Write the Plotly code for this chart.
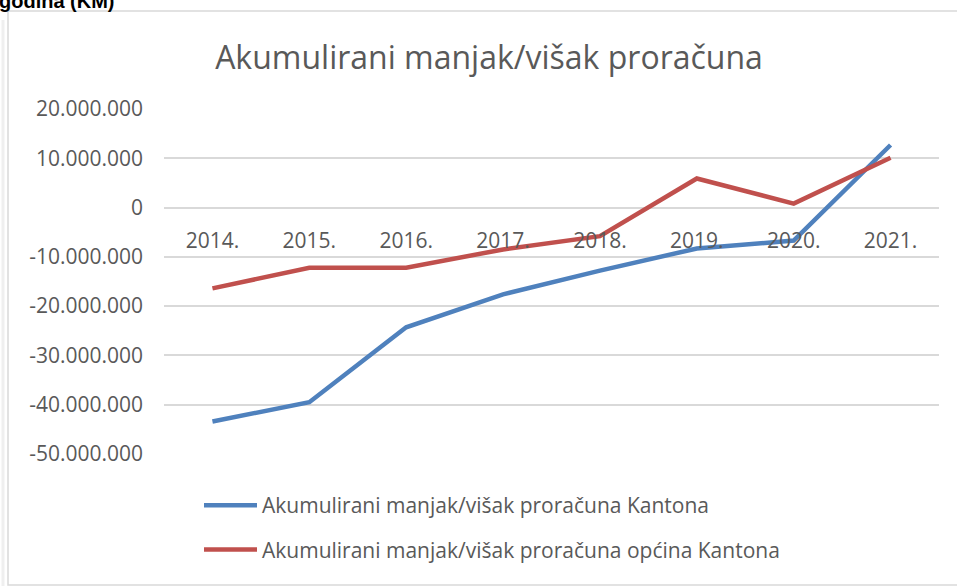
import plotly.graph_objects as go

years = ["2014.", "2015.", "2016.", "2017.", "2018.", "2019.", "2020.", "2021."]
kanton = [-43.4e6, -39.5e6, -24.3e6, -17.6e6, -12.8e6, -8.3e6, -6.7e6, 12.7e6]
opcine = [-16.4e6, -12.2e6, -12.2e6, -8.5e6, -5.8e6, 5.9e6, 0.8e6, 10.1e6]
tick_vals = [20e6, 10e6, 0, -10e6, -20e6, -30e6, -40e6, -50e6]
tick_text = ["20.000.000", "10.000.000", "0", "-10.000.000", "-20.000.000",
             "-30.000.000", "-40.000.000", "-50.000.000"]
names = ["Akumulirani manjak/višak proračuna Kantona",
         "Akumulirani manjak/višak proračuna općina Kantona"]
title = "Akumulirani manjak/višak proračuna"
top_text = "godina (KM)"

W, H = 957, 588
L, R, T, B = 164, 18, 109, 134
pw, ph = W - L - R, H - T - B
ymin, ymax = -50e6, 20e6

def px_x(x):
    return (x - L) / pw

def px_y(y):
    return (H - B - y) / ph

font = "Open Sans"
gray = "#595959"

fig = go.Figure()
fig.add_trace(go.Scatter(x=years, y=kanton, name=names[0], mode="lines",
                         line=dict(color="#4F81BD", width=4.5), legendgroup="a"))
fig.add_trace(go.Scatter(x=years, y=opcine, name=names[1], mode="lines",
                         line=dict(color="#C0504D", width=4.5), legendgroup="b"))

fig.update_layout(
    width=W, height=H,
    margin=dict(l=L, r=R, t=T, b=B),
    paper_bgcolor="white", plot_bgcolor="white",
    title=dict(text=title, x=px_x(489), xref="paper", xanchor="center",
               y=1 - 58 / H, yanchor="middle", yref="container",
               font=dict(family=font, size=32, color=gray)),
    font=dict(family=font, color=gray),
    xaxis=dict(anchor="free", position=(0 - ymin) / (ymax - ymin),
               range=[-0.5, len(years) - 0.5],
               showgrid=False, showline=False, ticks="", zeroline=False,
               tickfont=dict(size=21, color=gray), ticklabelstandoff=18),
    yaxis=dict(range=[ymin, ymax], tickvals=tick_vals, ticktext=tick_text,
               showgrid=True, gridcolor="#D9D9D9", gridwidth=1.5,
               zeroline=False, showline=False, ticks="",
               tickfont=dict(size=21, color=gray), ticklabelstandoff=20),
    legend=dict(orientation="v", x=px_x(199), xanchor="left", y=px_y(485),
                yanchor="top", font=dict(size=21, color=gray),
                tracegroupgap=14, itemwidth=53, bgcolor="rgba(0,0,0,0)"),
    showlegend=True,
)

# chart frame
fig.add_shape(type="rect", xref="paper", yref="paper",
              x0=px_x(8), x1=px_x(980), y0=px_y(585), y1=px_y(11),
              line=dict(color="#D9D9D9", width=1.5), layer="below")
fig.add_shape(type="line", xref="paper", yref="paper",
              x0=px_x(3), x1=px_x(3), y0=px_y(586), y1=px_y(20),
              line=dict(color="#EFEFEF", width=3), layer="below")

fig.add_annotation(text="<b>" + top_text + "</b>", xref="paper", yref="paper",
                   x=px_x(-3), y=px_y(-12), xanchor="left", yanchor="top",
                   showarrow=False, font=dict(family="Liberation Sans", size=20, color="black"))

fig.write_html("out.html", config={"displayModeBar": False},
               post_script="document.body.style.margin='0';")
